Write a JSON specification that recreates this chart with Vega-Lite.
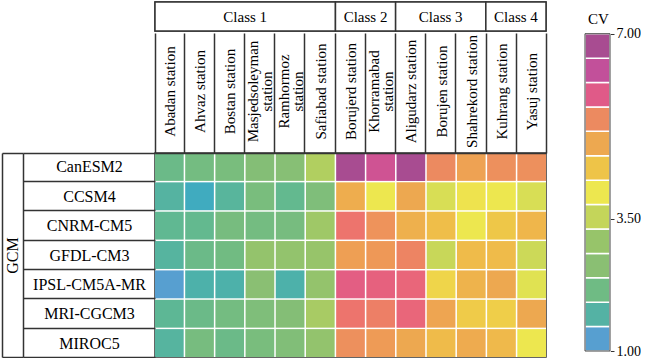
{
  "$schema": "https://vega.github.io/schema/vega-lite/v6.json",
  "padding": {"left": 0, "top": 0, "right": 0, "bottom": 0},
  "background": "white",
  "config": {
    "font": "Liberation Serif",
    "view": {"stroke": "#333", "strokeWidth": 1.5},
    "axis": {"labelColor": "black", "titleColor": "black", "labelFont": "Liberation Serif", "titleFont": "Liberation Serif"}
  },
  "datasets": {
    "classes": [
      {"cls": "Class 1", "n": 6},
      {"cls": "Class 2", "n": 2},
      {"cls": "Class 3", "n": 3},
      {"cls": "Class 4", "n": 2}
    ],
    "groups": [{"grp": "GCM"}],
    "bands": [
      {"lo": 1, "hi": 1.4615, "v": 1},
      {"lo": 1.4615, "hi": 1.9231, "v": 1.5},
      {"lo": 1.9231, "hi": 2.3846, "v": 2},
      {"lo": 2.3846, "hi": 2.8462, "v": 2.5},
      {"lo": 2.8462, "hi": 3.3077, "v": 3},
      {"lo": 3.3077, "hi": 3.7692, "v": 3.5},
      {"lo": 3.7692, "hi": 4.2308, "v": 4},
      {"lo": 4.2308, "hi": 4.6923, "v": 4.5},
      {"lo": 4.6923, "hi": 5.1538, "v": 5},
      {"lo": 5.1538, "hi": 5.6154, "v": 5.5},
      {"lo": 5.6154, "hi": 6.0769, "v": 6},
      {"lo": 6.0769, "hi": 6.5385, "v": 6.5},
      {"lo": 6.5385, "hi": 7, "v": 7}
    ],
    "cv": [
      {"gcm": "CanESM2", "station": "Abadan station", "cv": 1.95},
      {"gcm": "CanESM2", "station": "Ahvaz station", "cv": 2.1},
      {"gcm": "CanESM2", "station": "Bostan station", "cv": 2.2},
      {"gcm": "CanESM2", "station": "Masjedsoleyman station", "cv": 2.4},
      {"gcm": "CanESM2", "station": "Ramhormoz station", "cv": 2.45},
      {"gcm": "CanESM2", "station": "Safiabad station", "cv": 3.3},
      {"gcm": "CanESM2", "station": "Borujerd station", "cv": 7.0},
      {"gcm": "CanESM2", "station": "Khorramabad station", "cv": 6.3},
      {"gcm": "CanESM2", "station": "Aligudarz station", "cv": 7.0},
      {"gcm": "CanESM2", "station": "Borujen station", "cv": 5.5},
      {"gcm": "CanESM2", "station": "Shahrekord station", "cv": 5.1},
      {"gcm": "CanESM2", "station": "Kuhrang station", "cv": 5.4},
      {"gcm": "CanESM2", "station": "Yasuj station", "cv": 5.4},
      {"gcm": "CCSM4", "station": "Abadan station", "cv": 1.55},
      {"gcm": "CCSM4", "station": "Ahvaz station", "cv": 1.25},
      {"gcm": "CCSM4", "station": "Bostan station", "cv": 1.65},
      {"gcm": "CCSM4", "station": "Masjedsoleyman station", "cv": 2.2},
      {"gcm": "CCSM4", "station": "Ramhormoz station", "cv": 1.85},
      {"gcm": "CCSM4", "station": "Safiabad station", "cv": 2.3},
      {"gcm": "CCSM4", "station": "Borujerd station", "cv": 4.9},
      {"gcm": "CCSM4", "station": "Khorramabad station", "cv": 4.0},
      {"gcm": "CCSM4", "station": "Aligudarz station", "cv": 5.0},
      {"gcm": "CCSM4", "station": "Borujen station", "cv": 3.75},
      {"gcm": "CCSM4", "station": "Shahrekord station", "cv": 4.05},
      {"gcm": "CCSM4", "station": "Kuhrang station", "cv": 4.0},
      {"gcm": "CCSM4", "station": "Yasuj station", "cv": 3.75},
      {"gcm": "CNRM-CM5", "station": "Abadan station", "cv": 1.8},
      {"gcm": "CNRM-CM5", "station": "Ahvaz station", "cv": 1.85},
      {"gcm": "CNRM-CM5", "station": "Bostan station", "cv": 2.15},
      {"gcm": "CNRM-CM5", "station": "Masjedsoleyman station", "cv": 2.1},
      {"gcm": "CNRM-CM5", "station": "Ramhormoz station", "cv": 2.15},
      {"gcm": "CNRM-CM5", "station": "Safiabad station", "cv": 3.1},
      {"gcm": "CNRM-CM5", "station": "Borujerd station", "cv": 5.7},
      {"gcm": "CNRM-CM5", "station": "Khorramabad station", "cv": 5.35},
      {"gcm": "CNRM-CM5", "station": "Aligudarz station", "cv": 4.85},
      {"gcm": "CNRM-CM5", "station": "Borujen station", "cv": 4.6},
      {"gcm": "CNRM-CM5", "station": "Shahrekord station", "cv": 4.0},
      {"gcm": "CNRM-CM5", "station": "Kuhrang station", "cv": 4.45},
      {"gcm": "CNRM-CM5", "station": "Yasuj station", "cv": 4.75},
      {"gcm": "GFDL-CM3", "station": "Abadan station", "cv": 1.6},
      {"gcm": "GFDL-CM3", "station": "Ahvaz station", "cv": 1.95},
      {"gcm": "GFDL-CM3", "station": "Bostan station", "cv": 2.05},
      {"gcm": "GFDL-CM3", "station": "Masjedsoleyman station", "cv": 2.9},
      {"gcm": "GFDL-CM3", "station": "Ramhormoz station", "cv": 2.85},
      {"gcm": "GFDL-CM3", "station": "Safiabad station", "cv": 3.0},
      {"gcm": "GFDL-CM3", "station": "Borujerd station", "cv": 5.15},
      {"gcm": "GFDL-CM3", "station": "Khorramabad station", "cv": 5.25},
      {"gcm": "GFDL-CM3", "station": "Aligudarz station", "cv": 5.55},
      {"gcm": "GFDL-CM3", "station": "Borujen station", "cv": 3.55},
      {"gcm": "GFDL-CM3", "station": "Shahrekord station", "cv": 4.65},
      {"gcm": "GFDL-CM3", "station": "Kuhrang station", "cv": 4.65},
      {"gcm": "GFDL-CM3", "station": "Yasuj station", "cv": 3.6},
      {"gcm": "IPSL-CM5A-MR", "station": "Abadan station", "cv": 1.0},
      {"gcm": "IPSL-CM5A-MR", "station": "Ahvaz station", "cv": 1.45},
      {"gcm": "IPSL-CM5A-MR", "station": "Bostan station", "cv": 1.45},
      {"gcm": "IPSL-CM5A-MR", "station": "Masjedsoleyman station", "cv": 2.5},
      {"gcm": "IPSL-CM5A-MR", "station": "Ramhormoz station", "cv": 1.45},
      {"gcm": "IPSL-CM5A-MR", "station": "Safiabad station", "cv": 2.9},
      {"gcm": "IPSL-CM5A-MR", "station": "Borujerd station", "cv": 5.95},
      {"gcm": "IPSL-CM5A-MR", "station": "Khorramabad station", "cv": 5.9},
      {"gcm": "IPSL-CM5A-MR", "station": "Aligudarz station", "cv": 5.85},
      {"gcm": "IPSL-CM5A-MR", "station": "Borujen station", "cv": 4.25},
      {"gcm": "IPSL-CM5A-MR", "station": "Shahrekord station", "cv": 4.8},
      {"gcm": "IPSL-CM5A-MR", "station": "Kuhrang station", "cv": 5.0},
      {"gcm": "IPSL-CM5A-MR", "station": "Yasuj station", "cv": 3.85},
      {"gcm": "MRI-CGCM3", "station": "Abadan station", "cv": 1.75},
      {"gcm": "MRI-CGCM3", "station": "Ahvaz station", "cv": 1.95},
      {"gcm": "MRI-CGCM3", "station": "Bostan station", "cv": 2.1},
      {"gcm": "MRI-CGCM3", "station": "Masjedsoleyman station", "cv": 2.3},
      {"gcm": "MRI-CGCM3", "station": "Ramhormoz station", "cv": 2.4},
      {"gcm": "MRI-CGCM3", "station": "Safiabad station", "cv": 3.2},
      {"gcm": "MRI-CGCM3", "station": "Borujerd station", "cv": 5.7},
      {"gcm": "MRI-CGCM3", "station": "Khorramabad station", "cv": 5.6},
      {"gcm": "MRI-CGCM3", "station": "Aligudarz station", "cv": 5.85},
      {"gcm": "MRI-CGCM3", "station": "Borujen station", "cv": 5.05},
      {"gcm": "MRI-CGCM3", "station": "Shahrekord station", "cv": 4.4},
      {"gcm": "MRI-CGCM3", "station": "Kuhrang station", "cv": 4.35},
      {"gcm": "MRI-CGCM3", "station": "Yasuj station", "cv": 5.0},
      {"gcm": "MIROC5", "station": "Abadan station", "cv": 1.6},
      {"gcm": "MIROC5", "station": "Ahvaz station", "cv": 2.15},
      {"gcm": "MIROC5", "station": "Bostan station", "cv": 1.95},
      {"gcm": "MIROC5", "station": "Masjedsoleyman station", "cv": 2.2},
      {"gcm": "MIROC5", "station": "Ramhormoz station", "cv": 2.35},
      {"gcm": "MIROC5", "station": "Safiabad station", "cv": 2.85},
      {"gcm": "MIROC5", "station": "Borujerd station", "cv": 5.4},
      {"gcm": "MIROC5", "station": "Khorramabad station", "cv": 5.2},
      {"gcm": "MIROC5", "station": "Aligudarz station", "cv": 5.0},
      {"gcm": "MIROC5", "station": "Borujen station", "cv": 4.65},
      {"gcm": "MIROC5", "station": "Shahrekord station", "cv": 4.95},
      {"gcm": "MIROC5", "station": "Kuhrang station", "cv": 4.7},
      {"gcm": "MIROC5", "station": "Yasuj station", "cv": 4.0}
    ]
  },
  "spacing": 36,
  "hconcat": [
    {
      "spacing": -2,
      "vconcat": [
        {
          "width": 391,
          "height": 29,
          "data": {"name": "classes"},
          "transform": [
            {"stack": "n", "groupby": [], "sort": [{"field": "cls"}], "as": ["x0", "x1"]},
            {"calculate": "(datum.x0 + datum.x1) / 2", "as": "xm"}
          ],
          "layer": [
            {
              "mark": {"type": "rect", "fill": "white", "stroke": "#333", "strokeWidth": 1.5},
              "encoding": {
                "x": {"field": "x0", "type": "quantitative", "scale": {"domain": [0, 13], "nice": false, "zero": false}, "axis": null},
                "x2": {"field": "x1"}
              }
            },
            {
              "mark": {"type": "text", "fontSize": 15, "color": "black", "font": "Liberation Serif"},
              "encoding": {
                "x": {"field": "xm", "type": "quantitative"},
                "text": {"field": "cls"}
              }
            }
          ]
        },
        {
          "width": 391,
          "height": 204,
          "resolve": {"scale": {"y": "independent"}, "axis": {"y": "independent"}},
          "layer": [
            {
              "data": {"name": "groups"},
              "mark": {"type": "rect", "fill": "white"},
              "encoding": {
                "y": {
                  "field": "grp", "type": "nominal",
                  "scale": {"paddingInner": 0, "paddingOuter": 0},
                  "axis": {
                    "orient": "left", "offset": 153, "title": null, "zindex": 1,
                    "domainColor": "#333", "domainWidth": 1.5,
                    "tickColor": "#333", "tickWidth": 1.5, "tickSize": -21, "tickBand": "extent",
                    "labelAngle": 270, "labelAlign": "center", "labelBaseline": "middle",
                    "labelPadding": 10.5, "labelFontSize": 16
                  }
                }
              }
            },
            {
              "data": {"name": "cv"},
              "mark": {"type": "rect"},
              "encoding": {
                "x": {
                  "field": "station", "type": "nominal",
                  "sort": ["Abadan station", "Ahvaz station", "Bostan station", "Masjedsoleyman station", "Ramhormoz station", "Safiabad station", "Borujerd station", "Khorramabad station", "Aligudarz station", "Borujen station", "Shahrekord station", "Kuhrang station", "Yasuj station"],
                  "scale": {"paddingInner": 0.05, "paddingOuter": 0},
                  "axis": {
                    "orient": "top", "title": null, "zindex": 1,
                    "domainColor": "#333", "domainWidth": 1.5,
                    "tickBand": "extent", "tickSize": 120, "tickColor": "#333", "tickWidth": 1.5,
                    "labelAngle": 270, "labelBaseline": "middle", "labelAlign": "center",
                    "labelPadding": -58,
                    "labelOffset": {"condition": {"test": "datum.label == 'Masjedsoleyman station' || datum.label == 'Ramhormoz station' || datum.label == 'Khorramabad station'", "value": -7}, "value": 0},
                    "labelFontSize": 15, "labelLineHeight": 14,
                    "labelExpr": "(datum.label == 'Masjedsoleyman station' || datum.label == 'Ramhormoz station' || datum.label == 'Khorramabad station') ? split(datum.label, ' ') : datum.label"
                  }
                },
                "y": {
                  "field": "gcm", "type": "nominal",
                  "sort": ["CanESM2", "CCSM4", "CNRM-CM5", "GFDL-CM3", "IPSL-CM5A-MR", "MRI-CGCM3", "MIROC5"],
                  "scale": {"paddingInner": 0.05, "paddingOuter": 0},
                  "axis": {
                    "orient": "left", "offset": 132, "title": null, "zindex": 1,
                    "domainColor": "#333", "domainWidth": 1.5,
                    "tickBand": "extent", "tickSize": -132, "tickColor": "#333", "tickWidth": 1.5,
                    "labelAlign": "center", "labelBaseline": "middle",
                    "labelPadding": 66, "labelFontSize": 16
                  }
                },
                "color": {
                  "field": "cv", "type": "quantitative",
                  "scale": {"domain": [1, 7], "range": ["#579fd0", "#54b2a4", "#6fbb84", "#8abf73", "#97c46a", "#c4d55a", "#ede74f", "#eec448", "#eda850", "#ec8a60", "#e05a88", "#c2509a", "#a84c91"]},
                  "legend": null
                }
              }
            }
          ]
        }
      ]
    },
    {
      "width": 25,
      "height": 349,
      "view": {"stroke": null},
      "layer": [
        {
          "data": {"name": "bands"},
          "mark": {"type": "rect", "stroke": "white", "strokeWidth": 1.5},
          "encoding": {
            "y": {
              "field": "lo", "type": "quantitative",
              "scale": {"domain": [1, 7.6], "nice": false, "zero": false},
              "axis": {
                "orient": "right", "values": [1, 3.5, 7], "format": ".2f",
                "title": "CV", "titleAngle": 0, "titleX": -12, "titleY": 16,
                "titleAlign": "center", "titleBaseline": "middle",
                "titleFontSize": 15, "titleFontWeight": "normal",
                "domain": false, "grid": false, "tickSize": 4, "tickColor": "#333",
                "labelPadding": 2, "labelFontSize": 14
              }
            },
            "y2": {"field": "hi"},
            "color": {"field": "v", "type": "quantitative", "legend": null}
          }
        },
        {
          "data": {"values": [{"lo": 1, "hi": 7}]},
          "mark": {"type": "rect", "fillOpacity": 0, "stroke": "#444", "strokeWidth": 1},
          "encoding": {
            "y": {"field": "lo", "type": "quantitative"},
            "y2": {"field": "hi"}
          }
        }
      ]
    }
  ]
}
